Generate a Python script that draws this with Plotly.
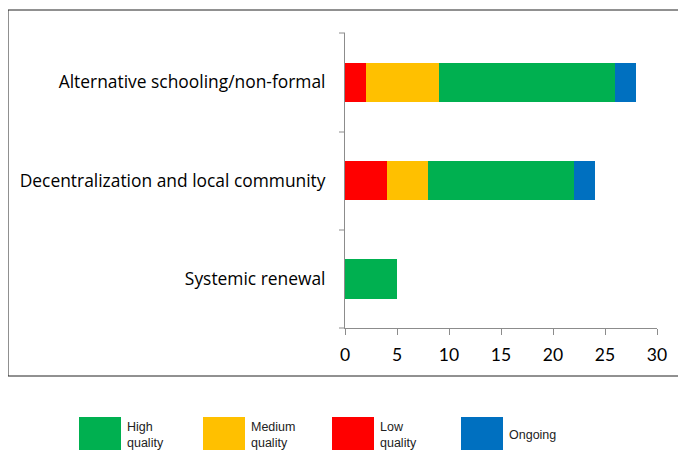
import plotly.graph_objects as go

categories = ["Alternative schooling/non-formal", "Decentralization and local community", "Systemic renewal"]
low = [2, 4, 0]
medium = [7, 4, 0]
high = [17, 14, 5]
ongoing = [2, 2, 0]
legend_labels = ["High<br>quality", "Medium<br>quality", "Low<br>quality", "Ongoing"]
x_ticks = [0, 5, 10, 15, 20, 25, 30]

colors = {"high": "#00B050", "medium": "#FFC000", "low": "#FF0000", "ongoing": "#0070C0"}

fig = go.Figure()
for name, vals, col in [("Low quality", low, colors["low"]),
                        ("Medium quality", medium, colors["medium"]),
                        ("High quality", high, colors["high"]),
                        ("Ongoing", ongoing, colors["ongoing"])]:
    fig.add_trace(go.Bar(y=categories, x=vals, name=name, orientation="h",
                         marker=dict(color=col, line=dict(width=0)), showlegend=False))

# page body has an 8px margin; work in reference pixel coords and subtract it
OFF = 8
W, H = 686 - OFF, 450 - OFF
L = 345 - OFF
R = W - (657 - OFF)
T = 33 - OFF
B = H - (328 - OFF)
pw, ph = W - L - R, H - T - B

def px(x):
    return (x - OFF - L) / pw

def py(y):
    return (H - B - (y - OFF)) / ph

fig.update_layout(
    width=W, height=H, barmode="stack", bargap=0.6,
    margin=dict(l=L, r=R, t=T, b=B),
    paper_bgcolor="white", plot_bgcolor="white",
    font=dict(family="Open Sans, sans-serif", color="black"),
    xaxis=dict(range=[0, 30], tickvals=x_ticks, showgrid=False, zeroline=False,
               showline=True, linecolor="#8c8c8c", linewidth=1,
               ticks="outside", ticklen=6, tickcolor="#8c8c8c",
               tickfont=dict(size=17.5, family="Lato, sans-serif"),
               ticklabelstandoff=5),
    yaxis=dict(categoryorder="array", categoryarray=categories[::-1],
               showgrid=False, zeroline=False, showline=True, linecolor="#8c8c8c",
               linewidth=1, ticks="", tickfont=dict(size=17.4, family="Open Sans, sans-serif"),
               ticklabelstandoff=15),
)

# category boundary tick marks on y axis
for yb in [33, 132, 230, 328]:
    fig.add_shape(type="line", xref="paper", yref="paper",
                  x0=px(339), x1=px(345), y0=py(yb), y1=py(yb),
                  line=dict(color="#8c8c8c", width=1))

# outer frame
fig.add_shape(type="rect", xref="paper", yref="paper",
              x0=px(8), x1=px(700), y0=py(376), y1=py(10),
              line=dict(color="#222222", width=1), layer="below")

# legend
sw = [79, 203, 332, 461]
legend_colors = [colors["high"], colors["medium"], colors["low"], colors["ongoing"]]
for x0, col, lab in zip(sw, legend_colors, legend_labels):
    fig.add_shape(type="rect", xref="paper", yref="paper",
                  x0=px(x0), x1=px(x0 + 42), y0=py(450), y1=py(417),
                  line=dict(width=0), fillcolor=col)
    fig.add_annotation(xref="paper", yref="paper", x=px(x0 + 46), y=py(435),
                       text=lab, showarrow=False, xanchor="left", yanchor="middle",
                       align="left",
                       font=dict(size=12.5, family="Liberation Sans, Arial, sans-serif", color="#222"))

fig.write_html("out.html")
